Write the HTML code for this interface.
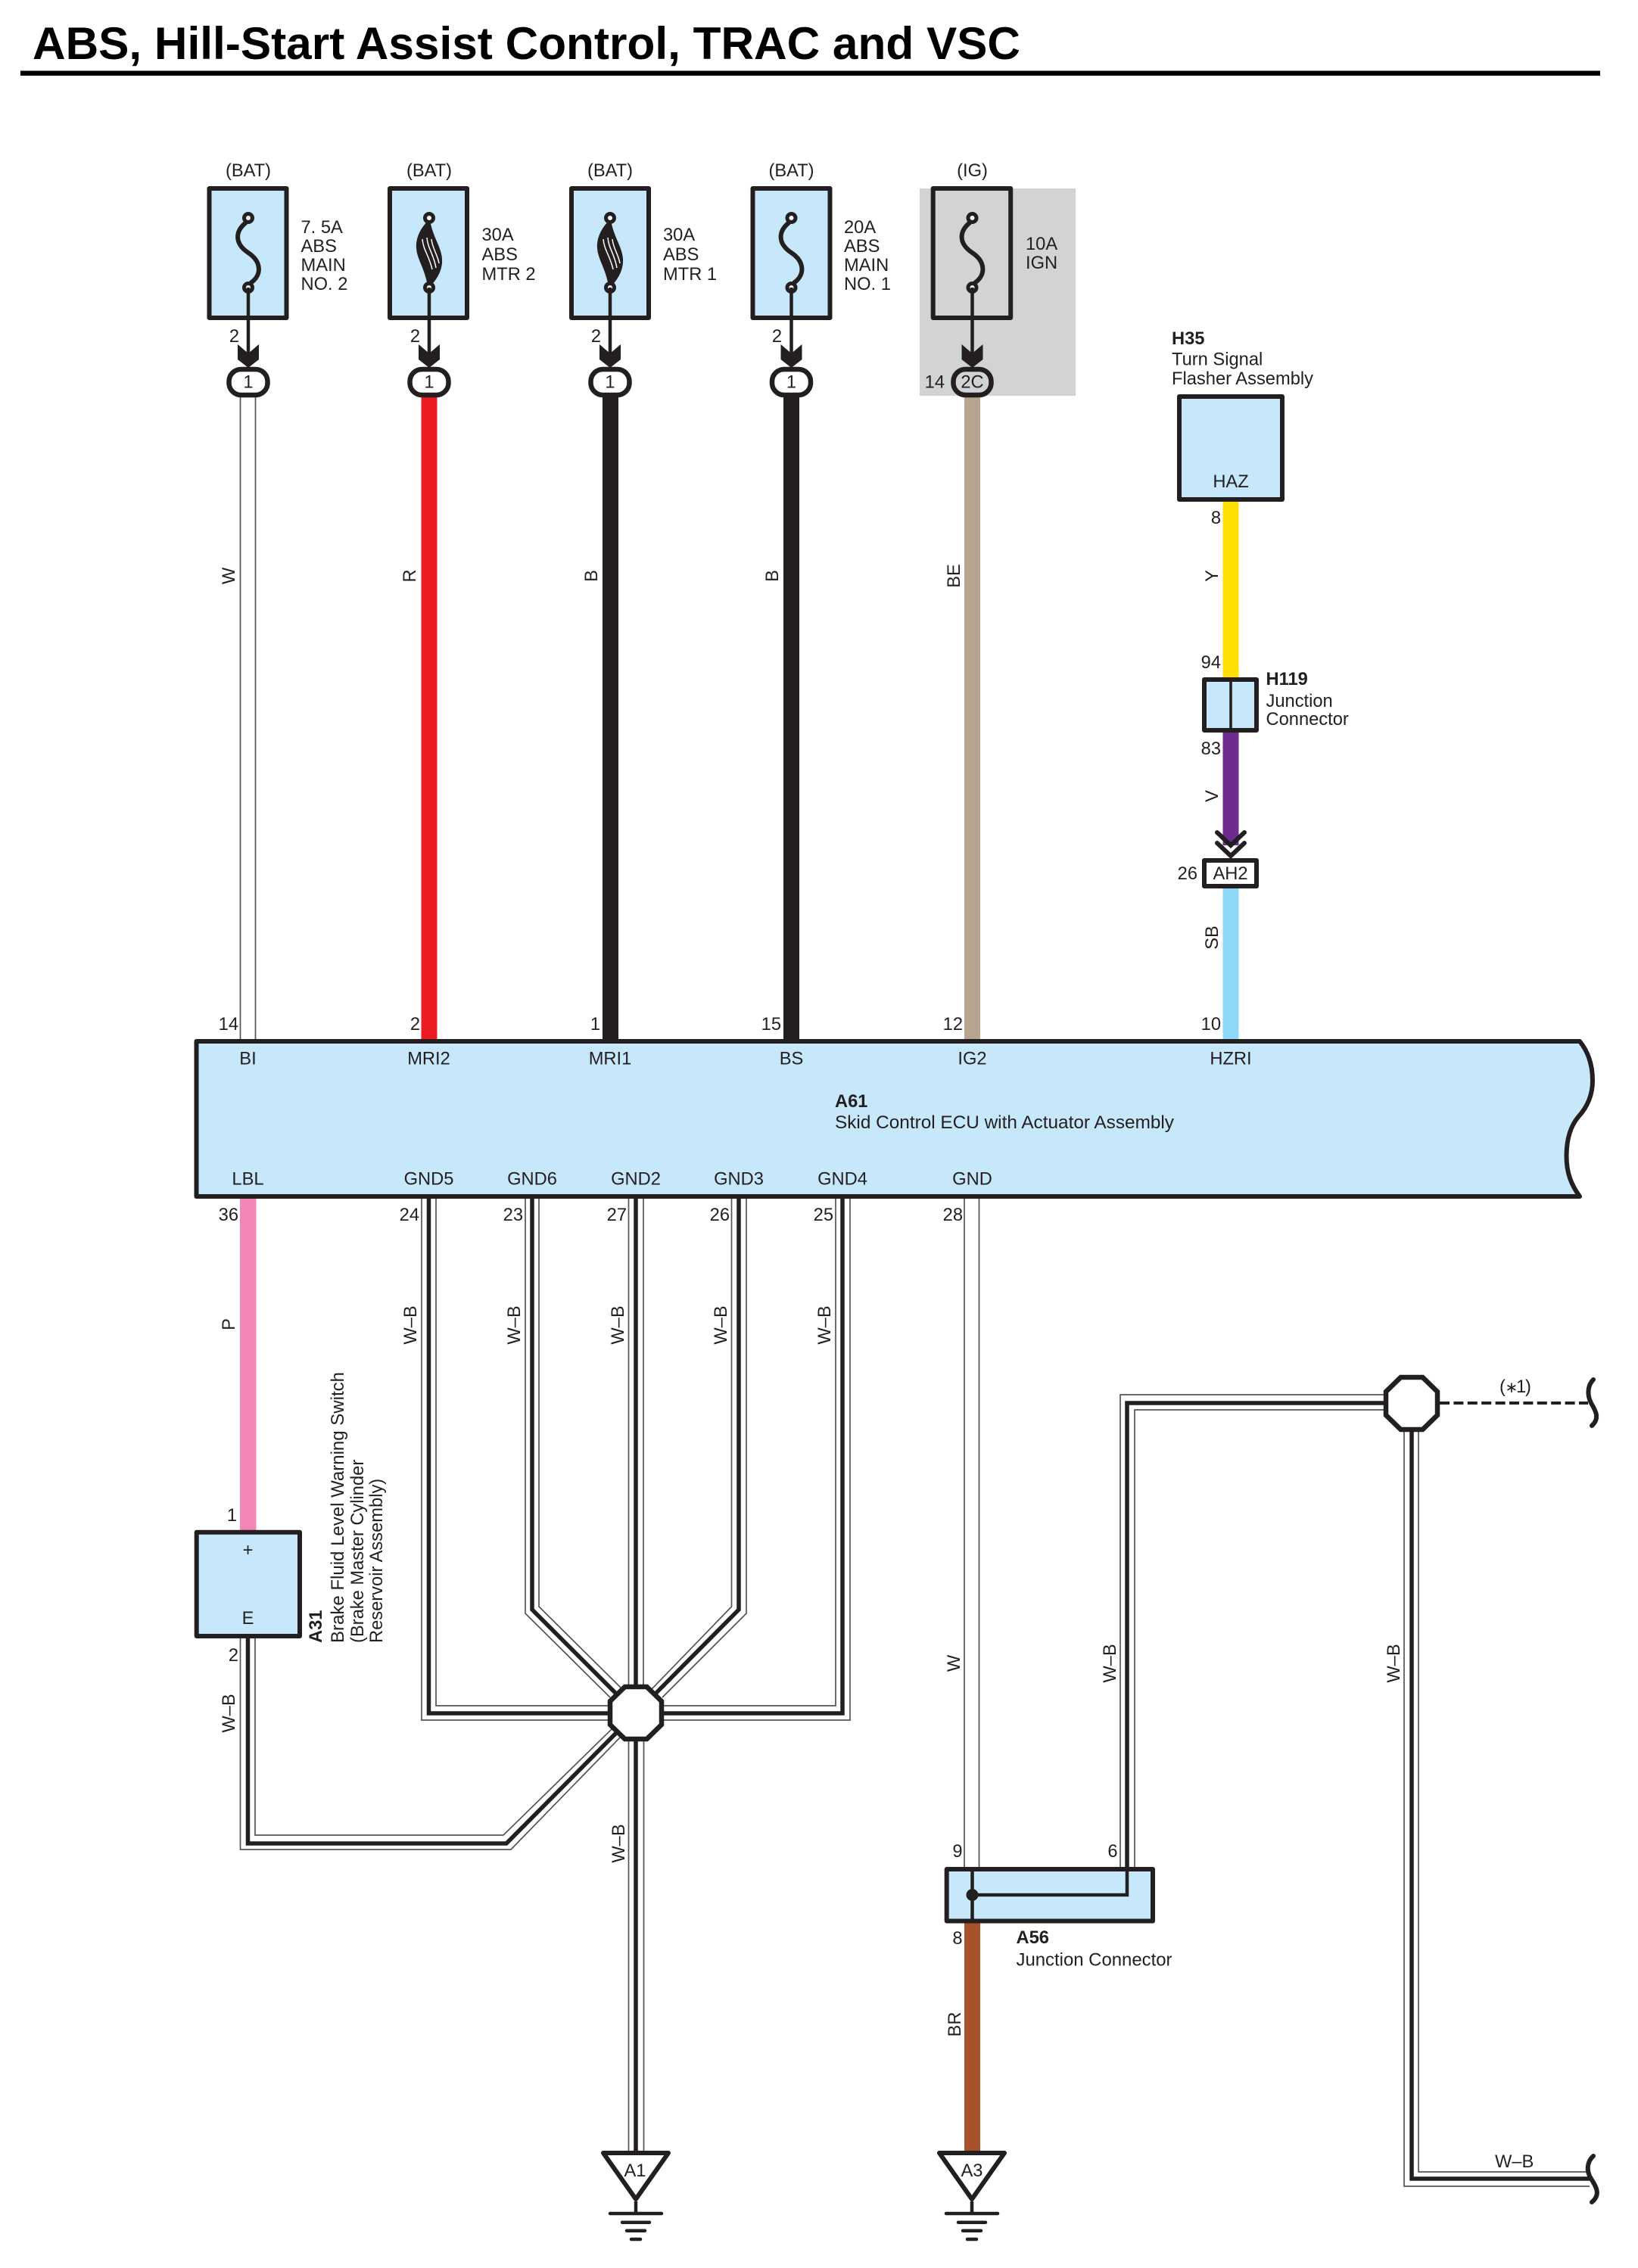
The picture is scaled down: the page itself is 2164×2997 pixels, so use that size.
<!DOCTYPE html>
<html lang="en">
<head>
<meta charset="utf-8">
<title>ABS, Hill-Start Assist Control, TRAC and VSC</title>
<style>
html,body{margin:0;padding:0;background:#fff}
svg{display:block}
text{font-family:"Liberation Sans",Arial,sans-serif;font-size:23.7px;fill:#231f20}
.b{font-weight:bold}
.m{text-anchor:middle}
.e{text-anchor:end}
.k{fill:none;stroke:#231f20;stroke-width:5.5;stroke-linejoin:miter}
.t{fill:none;stroke:#555;stroke-width:1.7}
.box{fill:#c7e8fb;stroke:#231f20;stroke-width:6;stroke-linejoin:round}
.g{fill:none;stroke:#231f20;stroke-width:4.5;stroke-linecap:round}
</style>
</head>
<body>
<svg width="2164" height="2997" viewBox="0 0 2164 2997" xmlns="http://www.w3.org/2000/svg">
<defs>
  <g id="fusebase">
    <path d="M0 380V468" stroke="#231f20" stroke-width="4.5" fill="none"/>
    <path d="M-14 455L0 467L14 455V475L0 486L-14 475Z" fill="#231f20"/>
  </g>
  <g id="single">
    <path d="M-3 294C-18 306 -18 322 0 334C18 346 18 364 3 374" fill="none" stroke="#231f20" stroke-width="6"/>
    <circle cx="0" cy="288" r="5.5" fill="#fff" stroke="#231f20" stroke-width="5"/>
    <circle cx="0" cy="380" r="5.5" fill="#fff" stroke="#231f20" stroke-width="5"/>
  </g>
  <g id="multi">
    <path d="M-1 291C-12 302 -18 315 -17 328C-16 343 -6 354 -2 378L2 378C11 368 18 356 17 342C16 326 5 314 1 291Z" fill="#231f20"/>
    <path d="M-9 316C-8 330 0 338 4 356M-3 314C-2 328 6 336 9 354M3 316C4 328 11 336 13 348" fill="none" stroke="#fff" stroke-width="1.5"/>
    <circle cx="0" cy="288" r="5.5" fill="#fff" stroke="#231f20" stroke-width="5"/>
    <circle cx="0" cy="380" r="5.5" fill="#fff" stroke="#231f20" stroke-width="5"/>
  </g>
  <g id="ground">
    <path d="M0 2909V2925" stroke="#231f20" stroke-width="4.5"/>
    <path class="g" d="M-34 2925H34M-18 2936.7H18M-12 2947.7H12M-6 2959H6"/>
    <path d="M-43 2845H43L0 2906Z" fill="#fff" stroke="#231f20" stroke-width="6" stroke-linejoin="round"/>
  </g>
</defs>

<rect width="2164" height="2997" fill="#fff"/>

<!-- Title -->
<text class="b" x="43" y="78" style="font-size:60px;fill:#000" textLength="1305" lengthAdjust="spacingAndGlyphs">ABS, Hill-Start Assist Control, TRAC and VSC</text>
<rect x="27" y="93.5" width="2087" height="6.5" fill="#000"/>

<!-- IG shaded area -->
<rect x="1215" y="249" width="206" height="274" fill="#d1d3d4"/>

<!-- Upper wires -->
<path class="t" d="M317.5 525V1374M337.5 525V1374"/>
<rect x="556.500" y="525" width="21" height="850" fill="#ed1c24"/>
<rect x="796" y="525" width="21" height="850" fill="#231f20"/>
<rect x="1035" y="525" width="21" height="850" fill="#231f20"/>
<rect x="1274" y="525" width="21" height="850" fill="#b9a58f"/>
<rect x="1615.500" y="660" width="21" height="236" fill="#ffde00"/>
<rect x="1615.500" y="967" width="21" height="150" fill="#6f2c8f"/>
<rect x="1615.500" y="1174" width="21" height="201" fill="#8ed8f8"/>

<!-- Fuses -->
<rect class="box" x="276.500" y="249" width="102" height="171"/>
<rect class="box" x="515" y="249" width="102" height="171"/>
<rect class="box" x="755" y="249" width="102" height="171"/>
<rect class="box" x="994.500" y="249" width="102" height="171"/>
<rect class="box" x="1232.700" y="249" width="102.500" height="171" style="fill:#d1d3d4"/>

<use href="#single" transform="translate(328,0)"/>
<use href="#multi" transform="translate(567,0)"/>
<use href="#multi" transform="translate(806,0)"/>
<use href="#single" transform="translate(1045.500,0)"/>
<use href="#single" transform="translate(1284.500,0)"/>
<use href="#fusebase" transform="translate(328,0)"/>
<use href="#fusebase" transform="translate(567,0)"/>
<use href="#fusebase" transform="translate(806,0)"/>
<use href="#fusebase" transform="translate(1045.500,0)"/>
<use href="#fusebase" transform="translate(1284.500,0)"/>

<!-- Fuse pin ovals -->
<rect x="302.500" y="488" width="51" height="34" rx="16" fill="#fff" stroke="#231f20" stroke-width="6.500"/>
<rect x="541.500" y="488" width="51" height="34" rx="16" fill="#fff" stroke="#231f20" stroke-width="6.500"/>
<rect x="780.500" y="488" width="51" height="34" rx="16" fill="#fff" stroke="#231f20" stroke-width="6.500"/>
<rect x="1020" y="488" width="51" height="34" rx="16" fill="#fff" stroke="#231f20" stroke-width="6.500"/>
<rect x="1259.500" y="488" width="50" height="34" rx="16" fill="#d1d3d4" stroke="#231f20" stroke-width="6.500"/>

<g>
<text class="m" x="328" y="512.500">1</text>
<text class="m" x="567" y="512.500">1</text>
<text class="m" x="806" y="512.500">1</text>
<text class="m" x="1045.500" y="512.500">1</text>
<text class="m" x="1284.500" y="512.500">2C</text>
<text class="e" x="1248" y="512.500">14</text>

<text class="m" x="328" y="233">(BAT)</text>
<text class="m" x="567" y="233">(BAT)</text>
<text class="m" x="806" y="233">(BAT)</text>
<text class="m" x="1045.500" y="233">(BAT)</text>
<text class="m" x="1284.500" y="233">(IG)</text>

<text class="e" x="316" y="452">2</text>
<text class="e" x="555" y="452">2</text>
<text class="e" x="794" y="452">2</text>
<text class="e" x="1033" y="452">2</text>

<text x="397.500" y="308">7. 5A</text>
<text x="397.500" y="333">ABS</text>
<text x="397.500" y="358">MAIN</text>
<text x="397.500" y="383">NO. 2</text>

<text x="636.500" y="318">30A</text>
<text x="636.500" y="344">ABS</text>
<text x="636.500" y="370">MTR 2</text>

<text x="876" y="318">30A</text>
<text x="876" y="344">ABS</text>
<text x="876" y="370">MTR 1</text>

<text x="1115" y="308">20A</text>
<text x="1115" y="333">ABS</text>
<text x="1115" y="358">MAIN</text>
<text x="1115" y="383">NO. 1</text>

<text x="1355" y="330">10A</text>
<text x="1355" y="355">IGN</text>

<text class="b" x="1548" y="455">H35</text>
<text x="1548" y="482.500">Turn Signal</text>
<text x="1548" y="508" textLength="187" lengthAdjust="spacingAndGlyphs">Flasher Assembly</text>
</g>

<!-- H35 -->
<rect class="box" x="1558" y="524" width="136" height="136"/>
<text class="m" x="1626" y="644">HAZ</text>
<text class="e" x="1613" y="692">8</text>
<text class="e" x="1613" y="883">94</text>

<!-- H119 -->
<rect class="box" x="1591" y="898" width="69" height="67"/>
<path d="M1626 898V965" stroke="#231f20" stroke-width="3.600"/>
<text class="b" x="1672.500" y="905">H119</text>
<text x="1672.500" y="934">Junction</text>
<text x="1672.500" y="958">Connector</text>
<text class="e" x="1613" y="997">83</text>

<!-- Chevrons + AH2 -->
<path d="M1608 1100L1626 1117L1644 1100M1608 1114L1626 1131L1644 1114" fill="none" stroke="#231f20" stroke-width="6" stroke-linecap="round"/>
<rect x="1591" y="1137" width="69" height="34" fill="#fff" stroke="#231f20" stroke-width="6" stroke-linejoin="round"/>
<text class="m" x="1625.500" y="1162">AH2</text>
<text class="e" x="1582" y="1162">26</text>

<!-- Pin numbers upper -->
<text class="e" x="315" y="1361">14</text>
<text class="e" x="555" y="1361">2</text>
<text class="e" x="793" y="1361">1</text>
<text class="e" x="1032" y="1361">15</text>
<text class="e" x="1272" y="1361">12</text>
<text class="e" x="1613" y="1361">10</text>

<!-- Rotated wire colours upper -->
<g>
<text class="m" transform="translate(310,761) rotate(-90)">W</text>
<text class="m" transform="translate(549,761) rotate(-90)">R</text>
<text class="m" transform="translate(789,761) rotate(-90)">B</text>
<text class="m" transform="translate(1028,761) rotate(-90)">B</text>
<text class="m" transform="translate(1268,761) rotate(-90)">BE</text>
<text class="m" transform="translate(1609,761) rotate(-90)">Y</text>
<text class="m" transform="translate(1609,1052) rotate(-90)">V</text>
<text class="m" transform="translate(1609,1239) rotate(-90)">SB</text>
</g>

<!-- Lower wires: thin lines -->
<rect x="317" y="1584" width="21.500" height="438" fill="#f286b6"/>
<path class="t" d="M557 1584V2273H806M576 1584V2254H806
M694 1584V2132L806 2243M712 1584V2123L820 2230
M830.500 1584V2230M850 1584V2230
M986 1584V2132L875 2243M966.500 1584V2123L861 2232
M1123 1584V2273H870M1104 1584V2254H870
M317.500 2164V2444H675L820 2295M337 2164V2425H665L808 2285
M830.500 2295V2845M850.500 2295V2845
M1274 1584V2468M1293.500 1584V2468
M1855 1890V2889H2100M1874 1890V2870H2098
M1828 1843H1480V2468M1828 1863H1499V2468"/>
<!-- Lower wires: thick core -->
<path class="k" d="M566.500 1584V2264H806M703 1584V2127L816 2240M840 1584V2240M976 1584V2127L864 2240M1113 1584V2264H874
M327.500 2164V2436H669L816 2288M840 2295V2845
M1828 1854H1489V2470M1865 1890V2879H2100"/>

<!-- Octagon junctions -->
<path d="M825.500 2229H854.500L874 2248V2279L854.500 2298H825.500L806 2279V2248Z" fill="#fff" stroke="#231f20" stroke-width="6.500"/>
<path d="M1850.500 1820H1879.500L1899 1839V1870L1879.500 1889H1850.500L1831 1870V1839Z" fill="#fff" stroke="#231f20" stroke-width="6.500"/>

<!-- Dashed + wave -->
<path d="M1902 1854H2098" fill="none" stroke="#231f20" stroke-width="4" stroke-dasharray="13 5.400"/>
<path d="M2105 1823C2098 1830 2096 1842 2102 1854C2108 1864 2114 1874 2103 1884" fill="none" stroke="#231f20" stroke-width="6" stroke-linecap="round"/>
<path d="M2105 2849C2097 2856 2095 2868 2102 2879C2109 2890 2115 2900 2103 2910" fill="none" stroke="#231f20" stroke-width="6" stroke-linecap="round"/>
<text x="1981" y="1840">(</text>
<text x="1988.500" y="1840" style="font-size:20px">∗</text>
<text x="2003" y="1840">1</text>
<text x="2015" y="1840">)</text>
<text x="1975" y="2864">W–B</text>

<!-- A61 -->
<path class="box" d="M259.500 1376H2087C2100 1392 2104 1410 2104 1428C2104 1448 2096 1464 2085 1476C2075 1488 2069.500 1506 2069.500 1528C2069.500 1550 2076 1566 2087 1581H259.500Z"/>
<g>
<text class="m" x="327.500" y="1406.500">BI</text>
<text class="m" x="566.500" y="1406.500">MRI2</text>
<text class="m" x="806" y="1406.500">MRI1</text>
<text class="m" x="1045.500" y="1406.500">BS</text>
<text class="m" x="1284.500" y="1406.500">IG2</text>
<text class="m" x="1626" y="1406.500">HZRI</text>
<text class="b" x="1103" y="1463">A61</text>
<text x="1103" y="1491" textLength="448" lengthAdjust="spacingAndGlyphs">Skid Control ECU with Actuator Assembly</text>
<text class="m" x="327.500" y="1565.500">LBL</text>
<text class="m" x="566.500" y="1565.500">GND5</text>
<text class="m" x="703" y="1565.500">GND6</text>
<text class="m" x="840" y="1565.500">GND2</text>
<text class="m" x="976" y="1565.500">GND3</text>
<text class="m" x="1113" y="1565.500">GND4</text>
<text class="m" x="1284.500" y="1565.500">GND</text>
</g>

<!-- Pin numbers lower -->
<text class="e" x="315" y="1613">36</text>
<text class="e" x="554" y="1613">24</text>
<text class="e" x="691" y="1613">23</text>
<text class="e" x="828" y="1613">27</text>
<text class="e" x="964" y="1613">26</text>
<text class="e" x="1101" y="1613">25</text>
<text class="e" x="1272" y="1613">28</text>

<!-- Rotated wire colours lower -->
<g>
<text class="m" transform="translate(310,1750) rotate(-90)">P</text>
<text class="m" transform="translate(550,1751) rotate(-90)">W–B</text>
<text class="m" transform="translate(687,1751) rotate(-90)">W–B</text>
<text class="m" transform="translate(824,1751) rotate(-90)">W–B</text>
<text class="m" transform="translate(960,1751) rotate(-90)">W–B</text>
<text class="m" transform="translate(1097,1751) rotate(-90)">W–B</text>
<text class="m" transform="translate(310,2264) rotate(-90)">W–B</text>
<text class="m" transform="translate(825,2436) rotate(-90)">W–B</text>
<text class="m" transform="translate(1268,2198) rotate(-90)">W</text>
<text class="m" transform="translate(1474,2198) rotate(-90)">W–B</text>
<text class="m" transform="translate(1849,2198) rotate(-90)">W–B</text>
<text class="m" transform="translate(1269,2675) rotate(-90)">BR</text>
</g>

<!-- A31 -->
<rect class="box" x="259.700" y="2024.700" width="136.300" height="137.300"/>
<text class="m" x="327.500" y="2056">+</text>
<text class="m" x="327.500" y="2146">E</text>
<text class="e" x="313" y="2010">1</text>
<text class="e" x="315" y="2195">2</text>
<g>
<text class="b" transform="translate(425,2171) rotate(-90)">A31</text>
<text transform="translate(454,2171) rotate(-90)" textLength="358" lengthAdjust="spacingAndGlyphs">Brake Fluid Level Warning Switch</text>
<text transform="translate(480,2171) rotate(-90)">(Brake Master Cylinder</text>
<text transform="translate(505,2171) rotate(-90)">Reservoir Assembly)</text>
</g>

<!-- A56 -->
<rect x="1274" y="2541" width="21" height="302" fill="#a5522d"/>
<rect class="box" x="1250.700" y="2470" width="272.300" height="68.500"/>
<path d="M1284.500 2470V2538.500" stroke="#231f20" stroke-width="4.500"/>
<path d="M1284.500 2504H1489V2470" fill="none" stroke="#231f20" stroke-width="4.500"/>
<circle cx="1284.500" cy="2504" r="8" fill="#231f20"/>
<text class="e" x="1271.500" y="2454">9</text>
<text class="e" x="1476.500" y="2454">6</text>
<text class="e" x="1271.500" y="2569">8</text>
<text class="b" x="1342.500" y="2568">A56</text>
<text x="1342.500" y="2597.500" textLength="206" lengthAdjust="spacingAndGlyphs">Junction Connector</text>

<!-- Grounds -->
<use href="#ground" transform="translate(840,0)"/>
<use href="#ground" transform="translate(1284,0)"/>
<text class="m" x="839" y="2876">A1</text>
<text class="m" x="1284" y="2876">A3</text>
</svg>
</body>
</html>
